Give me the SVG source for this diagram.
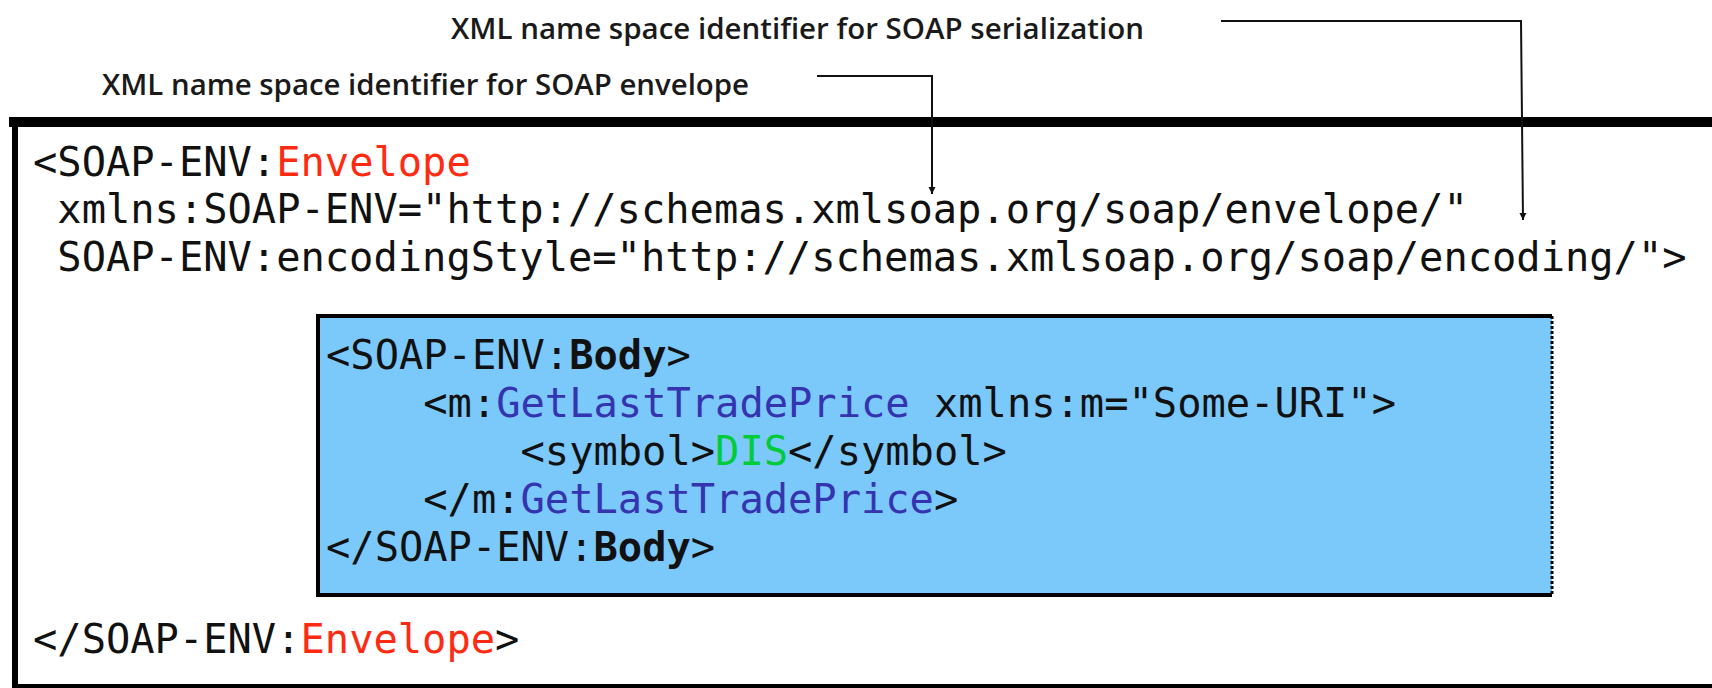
<svg xmlns="http://www.w3.org/2000/svg" width="1712" height="688" viewBox="0 0 1712 688">
  <style>
    .lbl { font-family: "Open Sans", "Noto Sans", "Liberation Sans", sans-serif; font-weight: 600; font-size: 28px; fill: #1a1a1a; }
    .code { font-family: "DejaVu Sans Mono", "Liberation Mono", monospace; font-size: 40.4px; fill: #111; white-space: pre; }
    .red { fill: #ff2a12; }
    .blue { fill: #3434b0; }
    .green { fill: #00cc3a; }
    .bold { font-weight: bold; }
    .conn { fill: none; stroke: #111; stroke-width: 2; }
  </style>
  <defs>
    <marker id="arr" viewBox="0 0 10 10" refX="10" refY="5" markerWidth="7" markerHeight="8" markerUnits="userSpaceOnUse" orient="auto">
      <path d="M0,0 L10,5 L0,10 z" fill="#111"/>
    </marker>
  </defs>

  <rect width="1712" height="688" fill="#ffffff"/>

  <g id="envelope">
    <line x1="9" y1="122" x2="1712" y2="122" stroke="#000" stroke-width="10"/>
    <line x1="15" y1="117" x2="15" y2="688" stroke="#000" stroke-width="6"/>
    <line x1="12" y1="686" x2="1712" y2="686" stroke="#000" stroke-width="4"/>
    <text class="code" x="33" y="176">&lt;SOAP-ENV:<tspan class="red">Envelope</tspan></text>
    <text class="code" x="33" y="223"> xmlns:SOAP-ENV="http://schemas.xmlsoap.org/soap/envelope/"</text>
    <text class="code" x="33" y="271"> SOAP-ENV:encodingStyle="http://schemas.xmlsoap.org/soap/encoding/"&gt;</text>
    <text class="code" x="33" y="653">&lt;/SOAP-ENV:<tspan class="red">Envelope</tspan>&gt;</text>
  </g>

  <g id="body">
    <rect x="318" y="316" width="1234" height="279" fill="#7bc8fb"/>
    <path d="M1552,316 L318,316 L318,595 L1552,595" fill="none" stroke="#000" stroke-width="4"/>
    <line x1="1552" y1="316" x2="1552" y2="595" stroke="#000" stroke-width="3" stroke-dasharray="3,2"/>
    <text class="code" x="326" y="369">&lt;SOAP-ENV:<tspan class="bold">Body</tspan>&gt;</text>
    <text class="code" x="326" y="417">    &lt;m:<tspan class="blue">GetLastTradePrice</tspan> xmlns:m="Some-URI"&gt;</text>
    <text class="code" x="326" y="465">        &lt;symbol&gt;<tspan class="green">DIS</tspan>&lt;/symbol&gt;</text>
    <text class="code" x="326" y="513">    &lt;/m:<tspan class="blue">GetLastTradePrice</tspan>&gt;</text>
    <text class="code" x="326" y="561">&lt;/SOAP-ENV:<tspan class="bold">Body</tspan>&gt;</text>
  </g>

  <g id="label-serialization">
    <text class="lbl" x="451" y="39" textLength="693" lengthAdjust="spacingAndGlyphs">XML name space identifier for SOAP serialization</text>
  </g>
  <g id="label-envelope">
    <text class="lbl" x="102" y="95" textLength="647" lengthAdjust="spacingAndGlyphs">XML name space identifier for SOAP envelope</text>
  </g>

  <g id="connectors">
    <polyline class="conn" points="817,76 932,76 932,194" marker-end="url(#arr)"/>
    <polyline class="conn" points="1221,21 1521,21 1523,220" marker-end="url(#arr)"/>
  </g>
</svg>
